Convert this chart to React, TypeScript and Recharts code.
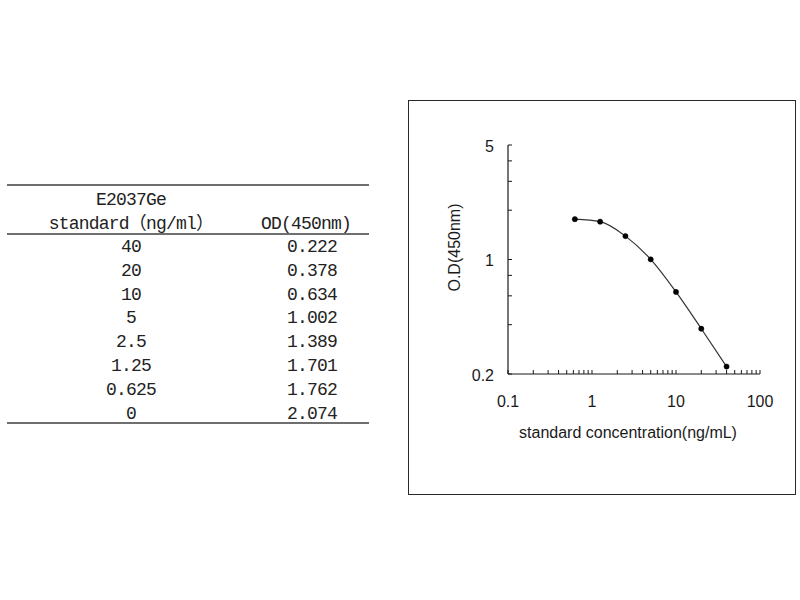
import React from "react";
import {
  ComposedChart,
  Line,
  XAxis,
  YAxis,
} from "recharts";

// standard curve, as listed in the table (highest concentration first)
const standardConc = [40, 20, 10, 5, 2.5, 1.25, 0.625, 0];
const odValues = [0.222, 0.378, 0.634, 1.002, 1.389, 1.701, 1.762, 2.074];

const kitName = "E2037Ge";
const concHeader = "standard（ng/ml）";
const odHeader = "OD(450nm)";

const xTicks = [
  0.1, 0.2, 0.3, 0.4, 0.5, 0.6, 0.7, 0.8, 0.9,
  1, 2, 3, 4, 5, 6, 7, 8, 9,
  10, 20, 30, 40, 50, 60, 70, 80, 90, 100,
];
const xMajor = [0.1, 1, 10, 100];
const yTicks = [0.2, 0.4, 0.6, 0.8, 1, 2, 3, 4, 5];
const yMajor = [0.2, 1, 5];

const xTitle = "standard concentration(ng/mL)";
const yTitle = "O.D(450nm)";

// log axes cannot show 0, so the blank is left out of the plot
const curve = standardConc
  .map((c, i) => ({ conc: c, od: odValues[i] }))
  .filter((p) => p.conc > 0)
  .sort((a, b) => a.conc - b.conc);

const tableFont = '"Liberation Mono", "Noto Sans CJK SC", monospace';
const chartFont = '"Liberation Sans", Arial, sans-serif';
const ink = "#1a1a1a";

function XTick(props: any) {
  const { x, y, payload } = props;
  const v = payload.value as number;
  return (
    <g>
      <line x1={x} y1={y} x2={x} y2={y - 4} stroke={ink} strokeWidth={1} />
      {xMajor.includes(v) && (
        <text
          x={x}
          y={y + 27}
          textAnchor="middle"
          dominantBaseline="central"
          fontSize={16}
          fontFamily={chartFont}
          fill={ink}
        >
          {v}
        </text>
      )}
    </g>
  );
}

function YTick(props: any) {
  const { x, y, payload } = props;
  const v = payload.value as number;
  return (
    <g>
      <line x1={x} y1={y} x2={x + 4} y2={y} stroke={ink} strokeWidth={1} />
      {yMajor.includes(v) && (
        <text
          x={x - 14}
          y={y + 1}
          textAnchor="end"
          dominantBaseline="central"
          fontSize={16}
          fontFamily={chartFont}
          fill={ink}
        >
          {v}
        </text>
      )}
    </g>
  );
}

function StandardTable() {
  const rule = (top: number) => (
    <div
      style={{
        position: "absolute",
        left: 7,
        top,
        width: 362,
        height: 2,
        background: "#6f6f6f",
      }}
    />
  );
  const textStyle: React.CSSProperties = {
    position: "absolute",
    fontFamily: tableFont,
    fontSize: 18,
    letterSpacing: -0.8,
    color: "#222",
    textAlign: "center",
    whiteSpace: "pre",
  };
  return (
    <>
      {rule(184)}
      <div style={{ ...textStyle, left: 7, top: 188, width: 248, lineHeight: "24px" }}>
        {kitName}
        <br />
        {concHeader}
      </div>
      <div style={{ ...textStyle, left: 256, top: 212, width: 100, lineHeight: "24px" }}>
        {odHeader}
      </div>
      {rule(233)}
      <div style={{ ...textStyle, left: 7, top: 236, width: 248, lineHeight: "23.8px" }}>
        {standardConc.map((c) => (
          <div key={c}>{String(c)}</div>
        ))}
      </div>
      <div style={{ ...textStyle, left: 262, top: 236, width: 100, lineHeight: "23.8px" }}>
        {odValues.map((v, i) => (
          <div key={i}>{v.toFixed(3)}</div>
        ))}
      </div>
      {rule(422)}
    </>
  );
}

export default function App() {
  return (
    <div
      style={{
        position: "absolute",
        left: 0,
        top: 0,
        width: 800,
        height: 600,
        background: "#fff",
        overflow: "hidden",
      }}
    >
      <StandardTable />
      <div
        style={{
          position: "absolute",
          left: 408,
          top: 100,
          width: 386,
          height: 393,
          border: "1px solid #2a2a2a",
        }}
      />
      <div style={{ position: "absolute", left: 408, top: 100 }}>
        <ComposedChart
          width={387}
          height={394}
          data={curve}
          margin={{ top: 45, right: 35, bottom: 60, left: 40 }}
        >
          <XAxis
            dataKey="conc"
            type="number"
            scale="log"
            domain={[0.1, 100]}
            ticks={xTicks}
            interval={0}
            allowDataOverflow
            height={60}
            tickSize={0}
            tickMargin={0}
            tickLine={false}
            axisLine={{ stroke: ink, strokeWidth: 1.2 }}
            tick={<XTick />}
            label={(p: any) => {
              const vb = p.viewBox;
              return (
                <text
                  x={vb.x + vb.width / 2 - 6}
                  y={vb.y + 58}
                  textAnchor="middle"
                  dominantBaseline="central"
                  fontSize={16}
                  fontFamily={chartFont}
                  fill={ink}
                >
                  {xTitle}
                </text>
              );
            }}
          />
          <YAxis
            dataKey="od"
            type="number"
            scale="log"
            domain={[0.2, 5]}
            ticks={yTicks}
            interval={0}
            allowDataOverflow
            width={60}
            tickSize={0}
            tickMargin={0}
            tickLine={false}
            axisLine={{ stroke: ink, strokeWidth: 1.2 }}
            tick={<YTick />}
            label={(p: any) => {
              const vb = p.viewBox;
              const cx = vb.x + 6;
              const cy = vb.y + vb.height / 2 - 12;
              return (
                <text
                  x={cx}
                  y={cy}
                  transform={`rotate(-90 ${cx} ${cy})`}
                  textAnchor="middle"
                  dominantBaseline="central"
                  fontSize={16}
                  fontFamily={chartFont}
                  fill={ink}
                >
                  {yTitle}
                </text>
              );
            }}
          />
          <Line
            type="monotone"
            dataKey="od"
            stroke="#333"
            strokeWidth={1.2}
            dot={{ r: 2.6, fill: "#000", stroke: "#000", strokeWidth: 0.5 }}
            activeDot={false}
            isAnimationActive={false}
          />
        </ComposedChart>
      </div>
    </div>
  );
}
